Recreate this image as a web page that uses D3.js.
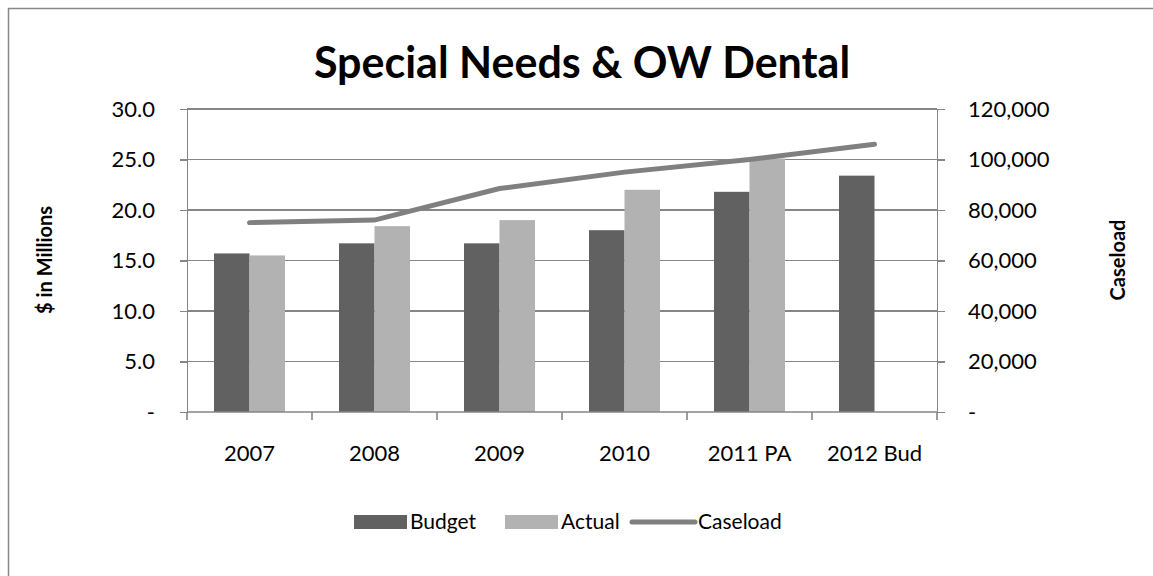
<!DOCTYPE html>
<meta charset="utf-8">
<style>
body { margin: 0; background: #fff; font-family: Lato, "Open Sans", sans-serif; }
.grid line { stroke: #868686; stroke-width: 1.6; shape-rendering: crispEdges; }
.axis path, .axis line { stroke: #868686; stroke-width: 1.6; fill: none; shape-rendering: crispEdges; }
.axis text { font: 22px Lato, sans-serif; fill: #000; }
</style>
<body>
<svg width="1153" height="576"></svg>
<script src="https://d3js.org/d3.v7.min.js"></script>
<script>

var categories = ["2007", "2008", "2009", "2010", "2011 PA", "2012 Bud"];
var budget = [15.7, 16.7, 16.7, 18.0, 21.8, 23.4];
var actual = [15.5, 18.4, 19.0, 22.0, 25.1, null];
var caseload = [75000, 76000, 88500, 95000, 100000, 106000];
var leftTicks = [0, 5, 10, 15, 20, 25, 30];
var rightTicks = [0, 20000, 40000, 60000, 80000, 100000, 120000];

var svg = d3.select("svg"),
    margin = {top: 109, right: 216, bottom: 164, left: 187},
    width = 1153 - margin.left - margin.right,
    height = 576 - margin.top - margin.bottom;

// chart frame
svg.append("rect")
    .attr("x", 8.5).attr("y", 8.5)
    .attr("width", 1160).attr("height", 600)
    .attr("fill", "#fff").attr("stroke", "#888").attr("stroke-width", 1.5);

svg.append("text")
    .attr("x", 582).attr("y", 78)
    .attr("text-anchor", "middle")
    .style("font", "bold 43px Lato, sans-serif")
    .text("Special Needs & OW Dental");

var g = svg.append("g")
    .attr("transform", "translate(" + margin.left + "," + margin.top + ")");

var x = d3.scaleBand().domain(categories).range([0, width]).paddingInner(0.432).paddingOuter(0.216);
var xs = d3.scaleBand().domain(["budget", "actual"]).range([0, x.bandwidth()]);
var xc = d3.scaleBand().domain(categories).range([0, width]); // full step, for tick marks
var y = d3.scaleLinear().domain([0, 30]).range([height, 0]);
var y2 = d3.scaleLinear().domain([0, 120000]).range([height, 0]);

g.append("g").attr("class", "grid")
  .selectAll("line").data(leftTicks.slice(1)).enter().append("line")
    .attr("x1", 0).attr("x2", width)
    .attr("y1", function(d) { return y(d); })
    .attr("y2", function(d) { return y(d); });

var rows = categories.map(function(c, i) {
  return {cat: c, budget: budget[i], actual: actual[i], caseload: caseload[i]};
});

var grp = g.selectAll(".grp").data(rows).enter().append("g")
    .attr("transform", function(d) { return "translate(" + x(d.cat) + ",0)"; });

grp.append("rect")
    .attr("x", xs("budget")).attr("width", xs.bandwidth())
    .attr("y", function(d) { return y(d.budget); })
    .attr("height", function(d) { return height - y(d.budget); })
    .attr("fill", "#616161");

grp.filter(function(d) { return d.actual != null; }).append("rect")
    .attr("x", xs("actual")).attr("width", xs.bandwidth())
    .attr("y", function(d) { return y(d.actual); })
    .attr("height", function(d) { return height - y(d.actual); })
    .attr("fill", "#b2b2b2");

// axes
var fmtL = function(d) { return d === 0 ? "-" : d3.format(".1f")(d); };
var fmtR = function(d) { return d === 0 ? "-" : d3.format(",")(d); };

g.append("g").attr("class", "axis")
    .call(d3.axisLeft(y).tickValues(leftTicks).tickFormat(fmtL).tickSize(7).tickPadding(25));

g.append("g").attr("class", "axis")
    .attr("transform", "translate(" + width + ",0)")
    .call(d3.axisRight(y2).tickValues(rightTicks).tickFormat(fmtR).tickSize(8).tickPadding(23));

var axb = g.append("g").attr("class", "axis")
    .attr("transform", "translate(0," + height + ")")
    .call(d3.axisBottom(x).tickSize(0).tickPadding(33));
axb.select(".domain").remove();
g.append("line")
    .attr("x1", 0).attr("x2", width).attr("y1", height).attr("y2", height)
    .attr("stroke", "#868686").attr("stroke-width", 1.6);
g.selectAll(".ctick").data(categories.concat(["end"])).enter().append("line")
    .attr("x1", function(d, i) { return i * xc.step(); })
    .attr("x2", function(d, i) { return i * xc.step(); })
    .attr("y1", height).attr("y2", height + 8)
    .attr("stroke", "#868686").attr("stroke-width", 1.6);

// caseload line
var line = d3.line()
    .x(function(d) { return x(d.cat) + x.bandwidth() / 2; })
    .y(function(d) { return y2(d.caseload); });

g.append("path").datum(rows)
    .attr("d", line)
    .attr("fill", "none")
    .attr("stroke", "#808080")
    .attr("stroke-width", 5)
    .attr("stroke-linecap", "round");

// axis titles
svg.append("text")
    .attr("transform", "translate(52,260) rotate(-90)")
    .attr("text-anchor", "middle")
    .style("font", "bold 20px Lato, sans-serif")
    .text("$ in Millions");

svg.append("text")
    .attr("transform", "translate(1125,260) rotate(-90)")
    .attr("text-anchor", "middle")
    .style("font", "bold 20px Lato, sans-serif")
    .text("Caseload");

// legend
var legend = svg.append("g").attr("transform", "translate(354,522)");
var items = [
  {name: "Budget", type: "bar", color: "#616161", x: 0},
  {name: "Actual", type: "bar", color: "#b2b2b2", x: 151},
  {name: "Caseload", type: "line", color: "#808080", x: 276}
];
items.forEach(function(it) {
  var li = legend.append("g").attr("transform", "translate(" + it.x + ",0)");
  if (it.type === "bar") {
    li.append("rect").attr("x", 0).attr("y", -7).attr("width", 53).attr("height", 14).attr("fill", it.color);
  } else {
    li.append("line").attr("x1", 2).attr("x2", 65).attr("y1", 0).attr("y2", 0)
      .attr("stroke", it.color).attr("stroke-width", 5).attr("stroke-linecap", "round");
  }
  li.append("text").attr("x", it.type === "bar" ? 56 : 68).attr("y", 0).attr("dy", "0.35em")
    .style("font", "21px Lato, sans-serif").text(it.name);
});

</script>
</body>
